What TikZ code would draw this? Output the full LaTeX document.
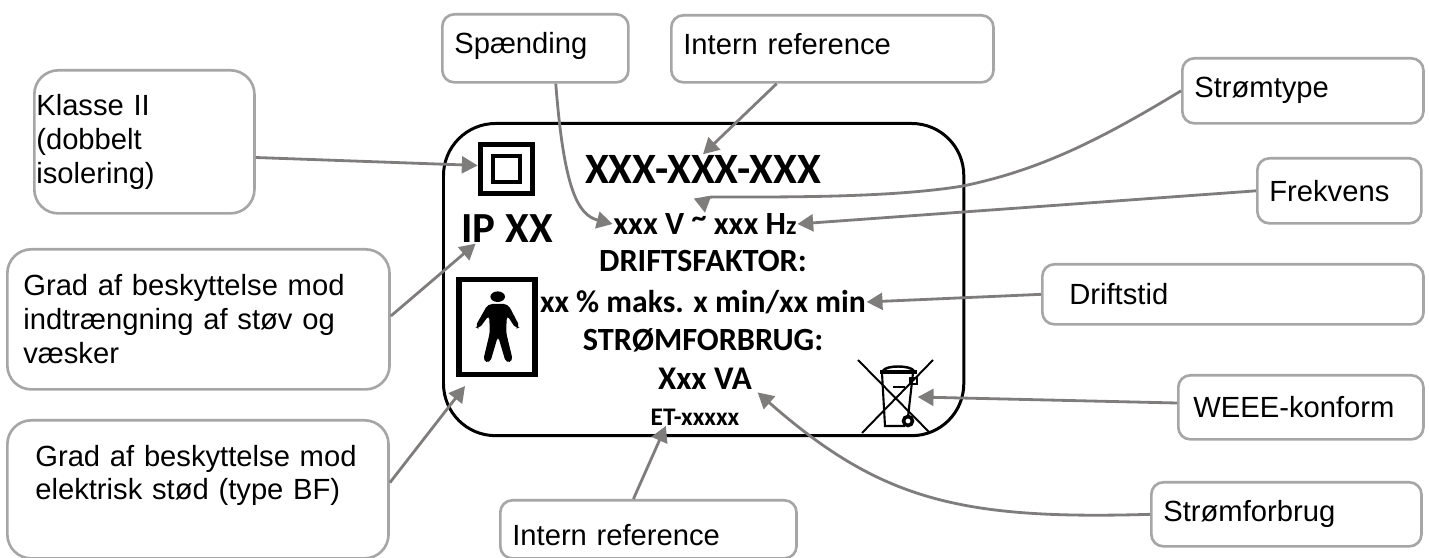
\documentclass[tikz,border=0pt]{standalone}
\usepackage{fontspec}
\usepackage{tikz}
\usetikzlibrary{arrows.meta}
\setmainfont{Liberation Sans}
\newfontfamily\labelfont{Carlito}
\definecolor{boxgray}{RGB}{166,166,166}
\definecolor{arrowgray}{RGB}{127,124,124}
\tikzset{
    calloutbox/.style={draw=boxgray, line width=0.75pt, rounded corners=#1, anchor=north west, align=left, inner xsep=0.12cm, inner ysep=0pt, font=\fontsize{8.3}{9.64}\selectfont},
    calloutbox/.default=0.12cm,
    pointer/.style={draw=arrowgray, line width=0.8pt, -{Triangle[length=4.5pt,width=4.8pt]}},
    labeltext/.style={inner sep=0pt, font=\labelfont\bfseries\fontsize{#1}{#1}\selectfont},
    labeltext/.default=9.2
}

\begin{document}
\begin{tikzpicture}[x=0.01cm,y=-0.01cm]
    \useasboundingbox (0,0) rectangle (1429,558);

    \node[draw=black, line width=0.85pt, rounded corners=0.52cm, minimum width=5.2cm, minimum height=3.12cm, anchor=north west] (plate) at (442,122) {};

    \node[calloutbox, minimum height=0.68cm, text width=1.62cm, text depth=2.8pt] (spaending) at (441,13) {Spænding};
    \node[calloutbox, minimum height=0.67cm, text width=2.98cm, text depth=3pt] (internTop) at (670,14) {Intern reference};
    \node[calloutbox, minimum height=0.65cm, text width=2.17cm] (stroemtype) at (1181,57) {Strømtype};
    \node[calloutbox, minimum height=0.65cm, text width=1.4cm] (frekvens) at (1256,157) {Frekvens};
    \node[calloutbox, minimum height=0.6cm, text width=3.27cm, inner xsep=0.27cm] (driftstid) at (1041,263) {Driftstid};
    \node[calloutbox, minimum height=0.64cm, text width=2.15cm, inner xsep=0.15cm] (weee) at (1177,374) {WEEE-konform};
    \node[calloutbox, minimum height=0.64cm, text width=2.46cm] (stroemforbrug) at (1150,481) {Strømforbrug};
    \node[calloutbox, minimum height=0.58cm, text width=2.72cm, text height=9pt] (internBottom) at (499,499) {Intern reference};
    \node[calloutbox=0.24cm, minimum height=1.43cm, text width=2.16cm, inner xsep=0.02cm] (klasse) at (33,69) {Klasse II\\(dobbelt\\isolering)};
    \node[calloutbox=0.24cm, minimum height=1.4cm, text width=3.5cm, inner xsep=0.16cm] (gradStoev) at (6,248) {Grad af beskyttelse mod\\indtrængning af støv og\\væsker};
    \node[calloutbox=0.24cm, minimum height=1.38cm, text width=3.25cm, inner xsep=0.28cm] (gradStoed) at (6,419) {Grad af beskyttelse mod\\elektrisk stød (type BF)\\\mbox{}};

    \node[labeltext=12.3] (title) at (703,169) {XXX-XXX-XXX};
    \node[labeltext] (voltline) at (705,224) {xxx V \raisebox{2pt}{\fontsize{8.5}{8.5}\selectfont\char`~}\ xxx H{\fontsize{7.5}{7.5}\selectfont z}};
    \node[labeltext=12.2] (ipxx) at (507,229) {IP XX};
    \node[labeltext] (factorline) at (703,261) {DRIFTSFAKTOR:};
    \node[labeltext=9] (dutyline) at (703,302) {xx \% maks. x min/xx min};
    \node[labeltext] (powerline) at (703,340) {STRØMFORBRUG:};
    \node[labeltext=9.4] (valine) at (705,379) {Xxx VA};
    \node[labeltext=7.2] (etline) at (695,417) {ET-xxxxx};

    \node[draw=black, line width=1.45pt, minimum width=0.525cm, minimum height=0.49cm, inner sep=0pt] (classtwo) at (506.5,169) {};
    \node[draw=black, line width=1.3pt, minimum width=0.27cm, minimum height=0.26cm, inner sep=0pt] (classinner) at (506.5,169) {};

    \node[draw=black, line width=1.45pt, minimum width=0.76cm, minimum height=0.95cm, inner sep=0pt] (personbox) at (497,327) {};
    \fill (497.7,296.7) ellipse (7.3 and 5.3);
    \fill[rounded corners=1.2pt] (488,304) -- (508,304) -- (520,327) -- (516,329) -- (507,315) -- (506,332) -- (513,361) -- (506,363) -- (498,336) -- (490,363) -- (483,361) -- (490,332) -- (489,315) -- (479,329) -- (475,327) -- cycle;

    \node[minimum width=0.57cm, minimum height=0.74cm, inner sep=0pt] (binicon) at (888.5,397) {};
    \draw[line width=0.55pt] (858,360) -- (930,433) (933,360) -- (862,433);
    \draw[line width=0.6pt] (882,373) -- (885,426) -- (905,426) (913,373) -- (908,417);
    \draw[line width=1pt] (880,372) -- (917,372);
    \draw[line width=0.7pt] (883,371) .. controls (885,365) and (911,365) .. (914,371);
    \fill (893,386) rectangle (905,388);
    \draw[line width=0.5pt] (910,378) rectangle (917,384);
    \draw[line width=1pt, fill=white] (908,421) circle (4.5);

    \draw[pointer] (klasse.-8) -- (classtwo.173);
    \draw[pointer] (spaending.-60) .. controls (564,190) and (578,215) .. (voltline.west);
    \draw[pointer] (internTop.-148) -- (title.north);
    \draw[pointer] (stroemtype.west) .. controls (1100,140) and (1040,170) .. (963,186) .. controls (890,198) and (780,197) .. (714,197) .. controls (706,197) and (703,200) .. (voltline.north);
    \draw[pointer] (frekvens.west) -- (voltline.east);
    \draw[pointer] (driftstid.west) -- (dutyline.east);
    \draw[pointer] (weee.178) -- (binicon.east);
    \draw[pointer] (stroemforbrug.west) .. controls (960,520) and (880,500) .. ([shift={(5,2)}]valine.south east);
    \draw[pointer] (internBottom.north) ++(-15,0) -- (etline.-163);
    \draw[pointer] (gradStoed.2) -- ([shift={(-32,9)}]personbox.south);
    \draw[pointer] (gradStoev.1) -- (ipxx.-155);
\end{tikzpicture}
\end{document}
